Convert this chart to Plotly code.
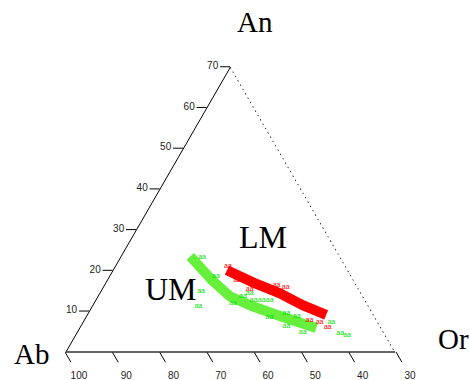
import plotly.graph_objects as go

# Axis ticks
an_ticks = [10, 20, 30, 40, 50, 60, 70]
ab_ticks = [100, 90, 80, 70, 60, 50, 40, 30]

# Right edge of the truncated diagram (Ab = 30)
edge_an = [70, 0]
edge_ab = [30, 30]
edge_or = [0, 70]

# LM trend (red)
lm_an = [20.1, 17.1, 14.4, 11.5, 9.1]
lm_ab = [55.7, 51.7, 47.3, 43.9, 40.1]
lm_or = [24.2, 31.2, 38.3, 44.6, 50.8]

# UM trend (green)
um_an = [23.5, 17.6, 13.7, 11.3, 8.6, 5.9]
um_ab = [61.8, 60.1, 58.3, 54.8, 49.6, 43.8]
um_or = [14.7, 22.3, 28.0, 33.9, 41.8, 50.3]

# UM analyses (green)
ump_an = [23.3, 18.6, 14.9, 11.3, 12.0, 14.4, 12.7, 12.7, 12.7, 8.6, 9.6, 8.8, 4.9, 6.4, 7.3, 4.7, 4.2, 13.7]
ump_ab = [59.4, 58.8, 63.8, 66.2, 58.5, 53.7, 53.7, 52.0, 50.3, 52.4, 48.3, 46.5, 47.2, 49.9, 39.9, 39.3, 38.1, 55.5]
ump_or = [17.3, 22.6, 21.3, 22.5, 29.5, 31.9, 33.6, 35.3, 37.0, 39.0, 42.1, 44.7, 47.9, 43.7, 52.8, 56.0, 57.7, 30.8]

# LM analyses (red)
lmp_an = [21.1, 17.6, 15.4, 16.4, 15.9, 7.8, 7.3, 6.1]
lmp_ab = [55.0, 54.8, 53.2, 47.0, 45.3, 44.3, 42.4, 41.3]
lmp_or = [23.9, 27.6, 31.4, 36.6, 38.8, 47.9, 50.3, 52.6]

serif = "Liberation Serif"
sans = "Liberation Sans"
SUM = 100
AB_MIN = 30
AN_MAX = SUM - AB_MIN

W, H = 469, 380
left_px, right_px = 65, 396         # base corners, from the left edge
base_px, apex_px = 28, 313          # base and apex height above the bottom edge
dom_x = [left_px / W, right_px / W]
dom_y = [base_px / H, apex_px / H]

# The Ab ticks point along the constant-Ab direction below the base, where
# An would be negative.  They are drawn on a hidden cartesian frame laid over
# the ternary one: horizontal position in Ab units is Ab + An/2, height is An.
tick_out = -2.5
label_out = -5.9
y_low = -6.6
x_low = AB_MIN - 4
px_y = (apex_px - base_px) / AN_MAX
px_x = (right_px - left_px) / AN_MAX
cart_dom_x = [left_px / W, (right_px + (AB_MIN - x_low) * px_x) / W]
cart_dom_y = [(base_px + y_low * px_y) / H, apex_px / H]

tk_x, tk_y = [], []
for v in ab_ticks:
    tk_x += [v, v + tick_out / 2, None]
    tk_y += [0, tick_out, None]

fig = go.Figure()

fig.add_trace(go.Scatterternary(
    a=edge_an, b=edge_ab, c=edge_or, mode="lines",
    line=dict(color="#000000", width=1.5, dash="1.5px,3.5px"),
    hoverinfo="skip", showlegend=False))

fig.add_trace(go.Scatter(
    x=tk_x, y=tk_y, mode="lines", cliponaxis=False,
    line=dict(color="black", width=1), connectgaps=False,
    hoverinfo="skip", showlegend=False))

fig.add_trace(go.Scatter(
    x=[v + label_out / 2 for v in ab_ticks], y=[label_out] * len(ab_ticks),
    mode="text", text=[str(v) for v in ab_ticks], cliponaxis=False,
    textfont=dict(family=sans, size=10, color="#222222"),
    hoverinfo="skip", showlegend=False))

fig.add_trace(go.Scatterternary(
    a=um_an, b=um_ab, c=um_or, mode="lines",
    line=dict(color="#66f03c", width=10), showlegend=False))

fig.add_trace(go.Scatterternary(
    a=lm_an, b=lm_ab, c=lm_or, mode="lines",
    line=dict(color="#ff0000", width=10), showlegend=False))

fig.add_trace(go.Scatterternary(
    a=ump_an, b=ump_ab, c=ump_or, mode="text", text=["aa"] * len(ump_an),
    textfont=dict(family=sans, size=7, color="#00e000"), showlegend=False))

fig.add_trace(go.Scatterternary(
    a=lmp_an, b=lmp_ab, c=lmp_or, mode="text", text=["aa"] * len(lmp_an),
    textfont=dict(family=sans, size=7, color="#ff0000"), showlegend=False))

tickfont = dict(family=sans, size=10, color="#222222")


def label(text, x, y, size):
    return dict(text=text, x=x / W, y=1 - y / H, xref="paper", yref="paper",
                xanchor="center", yanchor="middle", showarrow=False,
                font=dict(family=serif, size=size, color="black"))


fig.update_layout(
    width=W, height=H,
    margin=dict(l=0, r=0, t=0, b=0),
    paper_bgcolor="white",
    plot_bgcolor="rgba(0,0,0,0)",
    xaxis=dict(domain=cart_dom_x, range=[SUM, x_low], visible=False, fixedrange=True),
    yaxis=dict(domain=cart_dom_y, range=[y_low, AN_MAX], visible=False, fixedrange=True),
    ternary=dict(
        sum=SUM,
        domain=dict(x=dom_x, y=dom_y),
        bgcolor="rgba(0,0,0,0)",
        aaxis=dict(min=0, tickvals=an_ticks, ticks="outside", ticklen=10,
                   linecolor="black", linewidth=1, tickcolor="black",
                   showgrid=False, tickfont=tickfont, title=dict(text="")),
        baxis=dict(min=AB_MIN, tickvals=ab_ticks, ticks="", showticklabels=False,
                   linecolor="#333333", linewidth=1.5,
                   showgrid=False, title=dict(text="")),
        caxis=dict(min=0, showline=False, ticks="", showticklabels=False,
                   showgrid=False, title=dict(text="")),
    ),
    annotations=[
        label("An", 255, 22, 29),
        label("Ab", 31, 354, 29),
        label("Or", 453, 339, 29),
        label("LM", 263, 237, 32),
        label("UM", 171, 289, 32),
    ],
)

fig.write_html("out.html")
